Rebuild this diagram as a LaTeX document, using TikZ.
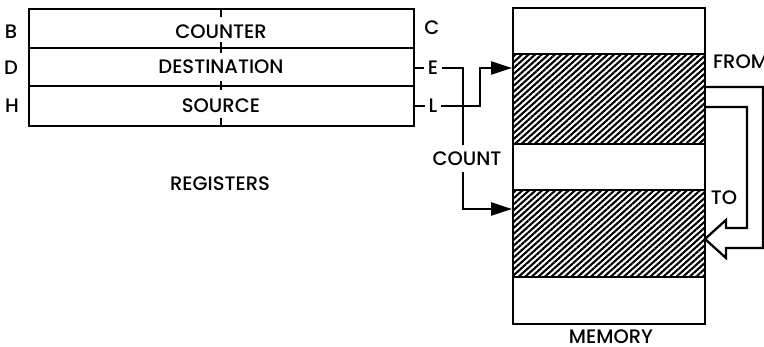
\documentclass[tikz,border=0pt]{standalone}
\usepackage{fontspec}
\setmainfont{Poppins}[UprightFont=* Medium]
\usetikzlibrary{arrows.meta,patterns.meta}
\begin{document}
\begin{tikzpicture}[x=1pt,y=-1pt,line width=2.3pt,
  lbl/.style={font=\fontsize{19.5}{19.5}\selectfont, inner sep=0pt},
  box/.style={draw, inner sep=0pt, anchor=north west},
  hatch/.style={pattern={Lines[angle=42,distance=4.4pt,line width=2.1pt]}},
  arr/.style={-{Triangle[length=21pt,width=13pt]}},
  tick/.style={line width=1.8pt}]
\useasboundingbox (0,0) rectangle (764,347);
% registers
\node[box, minimum width=385pt, minimum height=39pt] (rowB) at (28,8) {};
\node[box, minimum width=385pt, minimum height=38pt] (rowD) at (28,47) {};
\node[box, minimum width=385pt, minimum height=40pt] (rowH) at (28,85) {};
\draw[tick] (221,8) -- (221,17);
\draw[tick] (221,42) -- (221,53);
\draw[tick] (221,81) -- (221,90);
\draw[tick] (221,118) -- (221,125);
\node[lbl] (tCounter) at (221,31.5) {COUNTER};
\node[lbl] (tDest) at (221,67) {DESTINATION};
\node[lbl] (tSource) at (221,106) {SOURCE};
\node[lbl] (tRegs) at (220,184) {REGISTERS};
\node[lbl] (lB) at (11,32) {B};
\node[lbl] (lD) at (11,68) {D};
\node[lbl] (lH) at (12,106) {H};
\node[lbl] (lC) at (432,28) {C};
\node[lbl, inner xsep=3pt] (lE) at (433,68) {E};
\node[lbl, inner xsep=3pt] (lL) at (433,106) {L};
% memory
\node[box, minimum width=192pt, minimum height=316pt] (mem) at (512,7) {};
\node[box, hatch, minimum width=192pt, minimum height=90pt] (from) at (512,53) {};
\node[box, hatch, minimum width=192pt, minimum height=87pt] (to) at (512,189) {};
\node[lbl, anchor=west] (tFrom) at (712,62) {FROM};
\node[lbl] (tTo) at (724,198) {TO};
\node[lbl] (tMem) at (611,336.5) {MEMORY};
\node[lbl, inner sep=5pt] (tCount) at (467,158.5) {COUNT};
% connectors
\coordinate (cx) at (463,0);
\coordinate (eBend) at (463,68);
\coordinate (lBend) at (480,68);
\coordinate (arrFrom) at (512,68);
\coordinate (arrTo) at (512,209);
\draw (rowD.east |- lE.west) -- (lE.west);
\draw (rowH.east |- lL.west) -- (lL.west);
\draw (lE.east) -- (eBend) -- (tCount.north -| cx);
\draw[arr] (tCount.south -| cx) |- (arrTo);
\draw[arr] (lL.east) -| (lBend) -- (arrFrom);
% from -> to hollow arrow
\coordinate (o1) at (704,87);
\coordinate (o2) at (763,87);
\coordinate (o3) at (763,248);
\coordinate (o4) at (726,248);
\coordinate (o5) at (726,258);
\coordinate (tip) at (705,239);
\coordinate (i5) at (726,220);
\coordinate (i4) at (726,228);
\coordinate (i3) at (747,228);
\coordinate (i2) at (747,107);
\coordinate (i1) at (704,107);
\draw[line join=miter] (o1) -- (o2) -- (o3) -- (o4) -- (o5) -- (tip) -- (i5) -- (i4) -- (i3) -- (i2) -- (i1);
\end{tikzpicture}
\end{document}
